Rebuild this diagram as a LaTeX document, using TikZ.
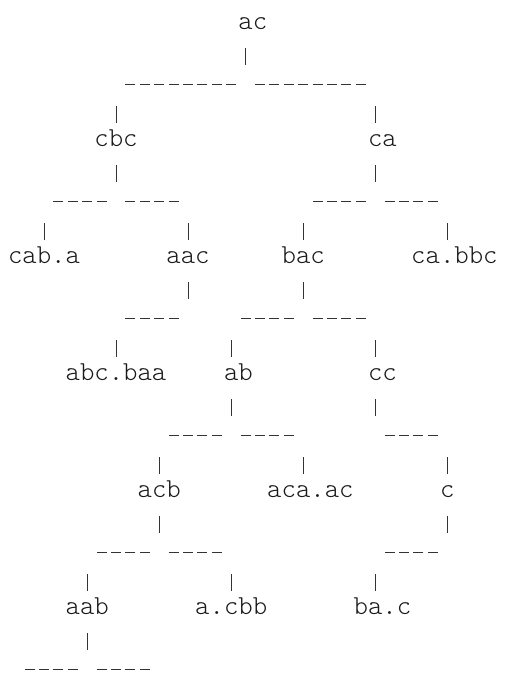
\documentclass[tikz,border=0pt]{standalone}
\usepackage{fontspec}
\setmonofont{Latin Modern Mono Light}
\usepackage{tikz}
\usetikzlibrary{positioning}
\tikzstyle{word}=[%
      anchor=mid, inner sep=0pt, text=black!90,
      font=\ttfamily\fontsize{27.4pt}{30pt}\selectfont
]
\tikzstyle{pipe}=[%
      draw=black!80, line width=0.9pt
]
\tikzstyle{bar}=[%
      draw=black!80, line width=0.9pt, dash pattern=on 10pt off 4.4pt
]
\begin{document}
\begin{tikzpicture}[x=14.4pt, y=29.25pt]
\useasboundingbox (-15.2pt,27pt) rectangle (493.8pt,-648pt);

\node[word](ac) at (16.5,0){ac};
\node[word](cbc) at (7,-4){cbc};
\node[word](ca) at (25.5,-4){ca};
\node[word](cab-a) at (2,-8){cab.a};
\node[word](aac) at (12,-8){aac};
\node[word](bac) at (20,-8){bac};
\node[word](ca-bbc) at (30.5,-8){ca.bbc};
\node[word](abc-baa) at (7,-12){abc.baa};
\node[word](ab) at (15.5,-12){ab};
\node[word](cc) at (25.5,-12){cc};
\node[word](acb) at (10,-16){acb};
\node[word](aca-ac) at (20.5,-16){aca.ac};
\node[word](c) at (30,-16){c};
\node[word](aab) at (5,-20){aab};
\node[word](a-cbb) at (15,-20){a.cbb};
\node[word](ba-c) at (25.5,-20){ba.c};

% ac
\draw[pipe](ac.mid) ++(-0.5,-0.71) -- ++(0,-0.58);
\draw[bar](ac.mid) ++(-1.153,-1.95) -- ++(-7.694,0);
\draw[bar](ac.mid) ++(0.153,-1.95) -- ++(7.694,0);
\draw[pipe](cbc.mid) ++(0,0.71) -- ++(0,0.58);
\draw[pipe](ca.mid) ++(-0.5,0.71) -- ++(0,0.58);

% cbc
\draw[pipe](cbc.mid) ++(0,-0.71) -- ++(0,-0.58);
\draw[bar](cbc.mid) ++(-0.653,-1.95) -- ++(-3.694,0);
\draw[bar](cbc.mid) ++(0.653,-1.95) -- ++(3.694,0);
\draw[pipe](cab-a.mid) ++(0,0.71) -- ++(0,0.58);
\draw[pipe](aac.mid) ++(0,0.71) -- ++(0,0.58);

% ca
\draw[pipe](ca.mid) ++(-0.5,-0.71) -- ++(0,-0.58);
\draw[bar](ca.mid) ++(-1.153,-1.95) -- ++(-3.694,0);
\draw[bar](ca.mid) ++(0.153,-1.95) -- ++(3.694,0);
\draw[pipe](bac.mid) ++(0,0.71) -- ++(0,0.58);
\draw[pipe](ca-bbc.mid) ++(-0.5,0.71) -- ++(0,0.58);

% aac
\draw[pipe](aac.mid) ++(0,-0.71) -- ++(0,-0.58);
\draw[bar](aac.mid) ++(-0.653,-1.95) -- ++(-3.694,0);
\draw[pipe](abc-baa.mid) ++(0,0.71) -- ++(0,0.58);

% bac
\draw[pipe](bac.mid) ++(0,-0.71) -- ++(0,-0.58);
\draw[bar](bac.mid) ++(-0.653,-1.95) -- ++(-3.694,0);
\draw[bar](bac.mid) ++(0.653,-1.95) -- ++(3.694,0);
\draw[pipe](ab.mid) ++(-0.5,0.71) -- ++(0,0.58);
\draw[pipe](cc.mid) ++(-0.5,0.71) -- ++(0,0.58);

% ab
\draw[pipe](ab.mid) ++(-0.5,-0.71) -- ++(0,-0.58);
\draw[bar](ab.mid) ++(-1.153,-1.95) -- ++(-3.694,0);
\draw[bar](ab.mid) ++(0.153,-1.95) -- ++(3.694,0);
\draw[pipe](acb.mid) ++(0,0.71) -- ++(0,0.58);
\draw[pipe](aca-ac.mid) ++(-0.5,0.71) -- ++(0,0.58);

% cc
\draw[pipe](cc.mid) ++(-0.5,-0.71) -- ++(0,-0.58);
\draw[bar](cc.mid) ++(0.153,-1.95) -- ++(3.694,0);
\draw[pipe](c.mid) ++(0,0.71) -- ++(0,0.58);

% acb
\draw[pipe](acb.mid) ++(0,-0.71) -- ++(0,-0.58);
\draw[bar](acb.mid) ++(-0.653,-1.95) -- ++(-3.694,0);
\draw[bar](acb.mid) ++(0.653,-1.95) -- ++(3.694,0);
\draw[pipe](aab.mid) ++(0,0.71) -- ++(0,0.58);
\draw[pipe](a-cbb.mid) ++(0,0.71) -- ++(0,0.58);

% c
\draw[pipe](c.mid) ++(0,-0.71) -- ++(0,-0.58);
\draw[bar](c.mid) ++(-0.653,-1.95) -- ++(-3.694,0);
\draw[pipe](ba-c.mid) ++(-0.5,0.71) -- ++(0,0.58);

% aab
\draw[pipe](aab.mid) ++(0,-0.71) -- ++(0,-0.58);
\draw[bar](aab.mid) ++(-0.653,-1.95) -- ++(-3.694,0);
\draw[bar](aab.mid) ++(0.653,-1.95) -- ++(3.694,0);
\end{tikzpicture}
\end{document}
